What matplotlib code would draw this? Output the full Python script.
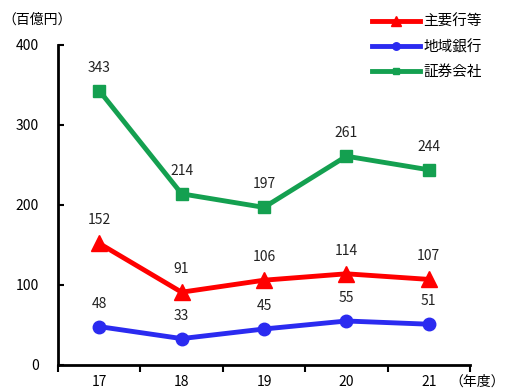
import matplotlib
matplotlib.use("Agg")
import matplotlib.pyplot as plt

plt.rcParams["font.family"] = ["Noto Sans CJK JP", "DejaVu Sans"]

years = ["17", "18", "19", "20", "21"]
major_banks = [152, 91, 106, 114, 107]
regional_banks = [48, 33, 45, 55, 51]
securities = [343, 214, 197, 261, 244]

series = [
    ("主要行等", major_banks, "#ff0000", "^", 11),
    ("地域銀行", regional_banks, "#2b2bf0", "o", 9),
    ("証券会社", securities, "#14a050", "s", 8),
]

fig = plt.figure(figsize=(5.07, 3.91), dpi=100)
ax = fig.add_axes([58 / 507, 1 - 365 / 391, 412 / 507, 320 / 391])

x = list(range(len(years)))
for name, vals, color, marker, ms in series:
    ax.plot(x, vals, color=color, lw=3.5, marker=marker, ms=ms, label=name)
    for xi, v in zip(x, vals):
        ax.text(xi, v + 20, str(v), ha="center", va="bottom", fontsize=10, color="#222222")

ax.set_xlim(-0.5, 4.5)
ax.set_ylim(0, 400)
ax.set_yticks([0, 100, 200, 300, 400])
ax.set_xticks([-0.5, 0.5, 1.5, 2.5, 3.5, 4.5])
ax.set_xticklabels([])
ax.tick_params(axis="x", direction="out", length=5, width=1.5)
ax.tick_params(axis="y", direction="in", length=4, width=1.5, labelsize=10, pad=14)
for xi, lab in zip(x, years):
    ax.text(xi, -12, lab, ha="center", va="top", fontsize=10, transform=ax.transData, clip_on=False)
ax.spines["top"].set_visible(False)
ax.spines["right"].set_visible(False)
ax.spines["left"].set_linewidth(2)
ax.spines["bottom"].set_linewidth(2)

fig.text(2 / 507, 1 - 20 / 391, "（百億円）", fontsize=10, va="center", ha="left")
fig.text(505 / 507, 1 - 382 / 391, "（年度）", fontsize=10, va="center", ha="right")

ax.legend(loc="upper left", bbox_to_anchor=(372 / 507, 1 - 15 / 391), bbox_transform=fig.transFigure,
          frameon=False, fontsize=10.5, handlelength=3.3, handletextpad=0.2, labelspacing=0.75,
          markerscale=0.6, borderaxespad=0, borderpad=0)

fig.savefig("out.png", dpi=100)
